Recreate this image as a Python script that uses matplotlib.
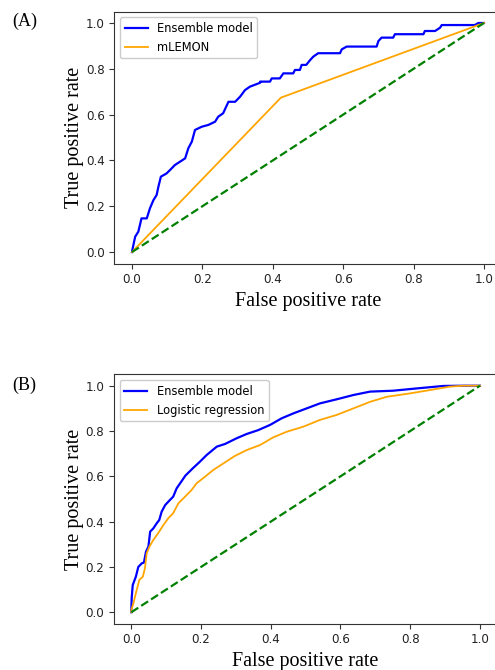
import matplotlib
matplotlib.use("Agg")
import matplotlib.pyplot as plt

# (A) ROC curves: ensemble vs mLEMON
ens_a_fpr = [0.0, 0.001, 0.009, 0.018, 0.027, 0.042, 0.051, 0.061, 0.070, 0.075, 0.082,
             0.098, 0.108, 0.122, 0.136, 0.151, 0.160, 0.170, 0.179, 0.198, 0.217, 0.236,
             0.245, 0.259, 0.274, 0.293, 0.307, 0.321, 0.335, 0.364, 0.364, 0.392, 0.397,
             0.420, 0.430, 0.458, 0.463, 0.477, 0.482, 0.495, 0.506, 0.515, 0.529, 0.591,
             0.596, 0.610, 0.695, 0.700, 0.709, 0.742, 0.747, 0.828, 0.832, 0.861, 0.875,
             0.880, 0.974, 0.984, 1.0]
ens_a_tpr = [0.0, 0.009, 0.067, 0.089, 0.147, 0.147, 0.191, 0.227, 0.249, 0.285, 0.329,
             0.343, 0.358, 0.380, 0.394, 0.409, 0.453, 0.482, 0.533, 0.547, 0.555, 0.569,
             0.591, 0.606, 0.656, 0.656, 0.678, 0.707, 0.722, 0.739, 0.744, 0.744, 0.758,
             0.758, 0.780, 0.780, 0.795, 0.795, 0.817, 0.817, 0.838, 0.853, 0.868, 0.868,
             0.885, 0.897, 0.897, 0.921, 0.936, 0.936, 0.951, 0.951, 0.965, 0.965, 0.979,
             0.991, 0.991, 1.0, 1.0]
mlemon_fpr = [0.0, 0.423, 1.0]
mlemon_tpr = [0.0, 0.674, 1.0]

# (B) ROC curves: ensemble vs logistic regression
ens_b_fpr = [0.0, 0.0, 0.001, 0.004, 0.013, 0.020, 0.030, 0.036, 0.042, 0.049, 0.054,
             0.063, 0.073, 0.080, 0.087, 0.097, 0.111, 0.120, 0.130, 0.143, 0.155, 0.176,
             0.197, 0.216, 0.245, 0.269, 0.302, 0.331, 0.364, 0.398, 0.431, 0.465, 0.503,
             0.541, 0.589, 0.637, 0.685, 0.751, 0.818, 0.895, 0.952, 1.0]
ens_b_tpr = [0.0, 0.010, 0.062, 0.120, 0.157, 0.200, 0.216, 0.219, 0.267, 0.290, 0.356,
             0.370, 0.393, 0.407, 0.444, 0.473, 0.496, 0.510, 0.547, 0.576, 0.603, 0.635,
             0.665, 0.694, 0.731, 0.743, 0.768, 0.787, 0.804, 0.827, 0.856, 0.878, 0.900,
             0.922, 0.940, 0.959, 0.974, 0.978, 0.988, 0.999, 1.0, 1.0]
lr_fpr = [0.0, 0.0, 0.006, 0.013, 0.023, 0.033, 0.039, 0.044, 0.052, 0.063, 0.077, 0.092,
          0.106, 0.120, 0.135, 0.154, 0.173, 0.187, 0.211, 0.235, 0.264, 0.297, 0.331,
          0.369, 0.407, 0.446, 0.493, 0.541, 0.589, 0.637, 0.685, 0.732, 0.799, 0.857,
          0.914, 0.952, 1.0]
lr_tpr = [0.0, 0.010, 0.040, 0.084, 0.143, 0.157, 0.194, 0.260, 0.290, 0.319, 0.349, 0.385,
          0.415, 0.437, 0.481, 0.510, 0.540, 0.569, 0.598, 0.628, 0.657, 0.690, 0.716,
          0.738, 0.772, 0.797, 0.819, 0.849, 0.871, 0.900, 0.929, 0.951, 0.966, 0.981,
          0.996, 1.0, 1.0]

chance = [0.0, 1.0]

label_font = {"family": "Liberation Serif", "size": 14.5}

fig = plt.figure(figsize=(4.95, 6.7), dpi=100)
ax_a = fig.add_axes([0.2311, 0.6067, 0.7822, 0.3761])
ax_b = fig.add_axes([0.2301, 0.0693, 0.7747, 0.3719])

panels = [
    (ax_a, ens_a_fpr, ens_a_tpr, mlemon_fpr, mlemon_tpr, "mLEMON"),
    (ax_b, ens_b_fpr, ens_b_tpr, lr_fpr, lr_tpr, "Logistic regression"),
]
for ax, e_x, e_y, o_x, o_y, o_name in panels:
    ax.plot(e_x, e_y, color="blue", lw=1.6, label="Ensemble model")
    ax.plot(o_x, o_y, color="orange", lw=1.3, label=o_name)
    ax.plot(chance, chance, color="green", lw=1.6, ls="--")
    ax.set_xlim(-0.05, 1.05)
    ax.set_ylim(-0.05, 1.05)
    ax.set_xticks([0.0, 0.2, 0.4, 0.6, 0.8, 1.0])
    ax.set_yticks([0.0, 0.2, 0.4, 0.6, 0.8, 1.0])
    ax.tick_params(labelsize=8.6, labelcolor="#222222", color="#333333")
    for s in ax.spines.values():
        s.set_color("#333333")
    ax.set_xlabel("False positive rate", fontdict=label_font, labelpad=4)
    ax.set_ylabel("True positive rate", fontdict=label_font, labelpad=1)
    ax.legend(loc="upper left", fontsize=8.3, framealpha=1)

fig.text(12 / 495, 1 - 13 / 670, "(A)", family="Liberation Serif", fontsize=13, va="top")
fig.text(12 / 495, 1 - 377 / 670, "(B)", family="Liberation Serif", fontsize=13, va="top")

fig.savefig("out.png", dpi=100)
